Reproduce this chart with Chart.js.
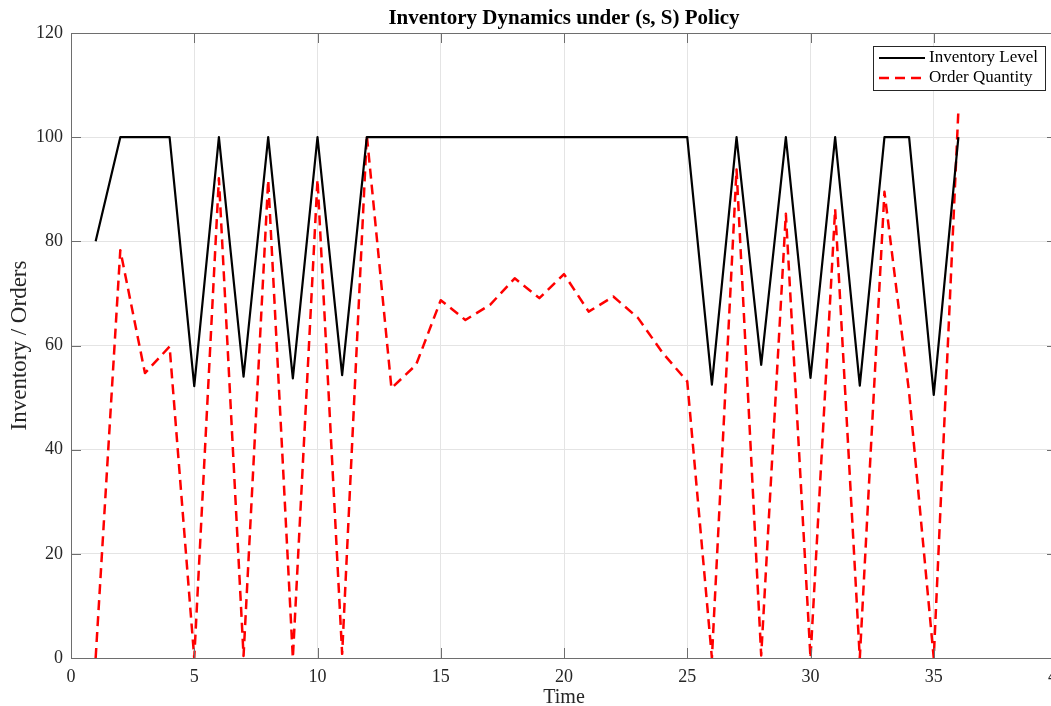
<!DOCTYPE html>
<html>
<head>
<meta charset="utf-8">
<script src="https://cdn.jsdelivr.net/npm/chart.js@4.4.0/dist/chart.umd.min.js"></script>
<style>
    html, body { margin: 0; padding: 0; overflow: hidden; background: #fff; }
    #wrap { width: 1075px; height: 706px; }
</style>
</head>
<body>
<div id="wrap"><canvas id="invChart" width="1075" height="706"></canvas></div>
<script>
const chartTitle = 'Inventory Dynamics under (s, S) Policy';
const times = [1, 2, 3, 4, 5, 6, 7, 8, 9, 10, 11, 12, 13, 14, 15, 16, 17, 18,
    19, 20, 21, 22, 23, 24, 25, 26, 27, 28, 29, 30, 31, 32, 33, 34, 35, 36];
const inventoryLevel = [80, 100, 100, 100, 52.2, 100, 54.0, 100, 53.7, 100, 54.3, 100,
    100, 100, 100, 100, 100, 100, 100, 100, 100, 100, 100, 100, 100,
    52.5, 100, 56.3, 100, 53.8, 100, 52.3, 100, 100, 50.5, 100];
const orderQuantity = [0, 78.3, 54.7, 59.8, 0, 92.1, 0.4, 91.8, 0, 91.9, 0.8, 100.4,
    51.8, 56.3, 68.7, 64.9, 67.8, 72.9, 69.1, 73.7, 66.5, 69.4, 65.3, 58.6, 53.1,
    0, 93.8, 0.5, 85.3, 0, 86.2, 0, 89.5, 51, 0, 105.2];
const xTicks = [0, 5, 10, 15, 20, 25, 30, 35, 40];
const yTicks = [0, 20, 40, 60, 80, 100, 120];

const serif = '"Liberation Serif", "Times New Roman", serif';
const axisGray = '#262626';

// box, inward ticks, title and legend drawn the MATLAB way
const matlabFrame = {
    id: 'matlabFrame',
    afterDraw(chart) {
        const { ctx, chartArea: a, scales: { x, y } } = chart;
        ctx.save();
        ctx.strokeStyle = '#6e6e6e';
        ctx.lineWidth = 1;
        ctx.strokeRect(a.left + 0.5, a.top + 0.5, a.right - a.left, a.bottom - a.top);
        ctx.beginPath();
        xTicks.forEach(v => {
            const px = Math.round(x.getPixelForValue(v)) + 0.5;
            ctx.moveTo(px, a.bottom); ctx.lineTo(px, a.bottom - 10);
            ctx.moveTo(px, a.top); ctx.lineTo(px, a.top + 10);
        });
        yTicks.forEach(v => {
            const py = Math.round(y.getPixelForValue(v)) + 0.5;
            ctx.moveTo(a.left, py); ctx.lineTo(a.left + 10, py);
            ctx.moveTo(a.right, py); ctx.lineTo(a.right - 10, py);
        });
        ctx.stroke();

        // title
        ctx.fillStyle = '#000';
        ctx.font = 'bold 21px ' + serif;
        ctx.textAlign = 'center';
        ctx.textBaseline = 'middle';
        ctx.fillText(chartTitle, (a.left + a.right) / 2, 19);

        // legend
        const lx = 873, ly = 46, lw = 172, lh = 44;
        ctx.fillStyle = '#fff';
        ctx.fillRect(lx, ly, lw, lh);
        ctx.strokeStyle = '#262626';
        ctx.strokeRect(lx + 0.5, ly + 0.5, lw, lh);
        ctx.font = '17px ' + serif;
        ctx.textAlign = 'left';
        chart.data.datasets.forEach((ds, i) => {
            const cy = ly + 12 + i * 20;
            ctx.beginPath();
            ctx.strokeStyle = ds.borderColor;
            ctx.lineWidth = ds.borderWidth;
            ctx.setLineDash(ds.borderDash || []);
            ctx.moveTo(lx + 6, cy);
            ctx.lineTo(lx + 52, cy);
            ctx.stroke();
            ctx.setLineDash([]);
            ctx.fillStyle = '#000';
            ctx.fillText(ds.label, lx + 56, cy);
        });
        ctx.restore();
    },
};

const invCtx = document.getElementById('invChart').getContext('2d');
const invChart = new Chart(invCtx, {
    type: 'line',
    data: {
        datasets: [
            {
                label: 'Inventory Level',
                data: times.map((t, i) => ({ x: t, y: inventoryLevel[i] })),
                borderColor: '#000000',
                borderWidth: 2.2,
                borderJoinStyle: 'round',
                pointRadius: 0,
                tension: 0,
            },
            {
                label: 'Order Quantity',
                data: times.map((t, i) => ({ x: t, y: orderQuantity[i] })),
                borderColor: '#ff0000',
                borderWidth: 2.5,
                borderDash: [10, 6],
                borderJoinStyle: 'round',
                pointRadius: 0,
                tension: 0,
            },
        ],
    },
    options: {
        responsive: false,
        animation: false,
        layout: { padding: { top: 33, right: 18, left: 0, bottom: 0 } },
        plugins: {
            legend: { display: false },
            tooltip: { enabled: false },
        },
        scales: {
            x: {
                type: 'linear',
                min: 0,
                max: 40,
                afterFit: s => { s.height = 48; },
                afterBuildTicks: s => { s.ticks = xTicks.map(v => ({ value: v })); },
                grid: { color: '#e4e4e4', drawTicks: false },
                border: { display: false },
                ticks: {
                    padding: 8,
                    color: axisGray,
                    font: { family: serif, size: 18 },
                    maxRotation: 0,
                    autoSkip: false,
                },
                title: {
                    display: true,
                    text: 'Time',
                    color: axisGray,
                    font: { family: serif, size: 20, lineHeight: 0.8 },
                    padding: { top: 0, bottom: 0 },
                },
            },
            y: {
                min: 0,
                max: 120,
                afterFit: s => { s.width = 71; },
                afterBuildTicks: s => { s.ticks = yTicks.map(v => ({ value: v })); },
                grid: { color: '#e4e4e4', drawTicks: false },
                border: { display: false },
                ticks: {
                    padding: 8,
                    color: axisGray,
                    font: { family: serif, size: 18 },
                },
                title: {
                    display: true,
                    text: 'Inventory / Orders',
                    color: axisGray,
                    font: { family: serif, size: 23, lineHeight: 1.0 },
                    padding: { top: 8, bottom: 0 },
                },
            },
        },
    },
    plugins: [matlabFrame],
});
</script>
</body>
</html>
